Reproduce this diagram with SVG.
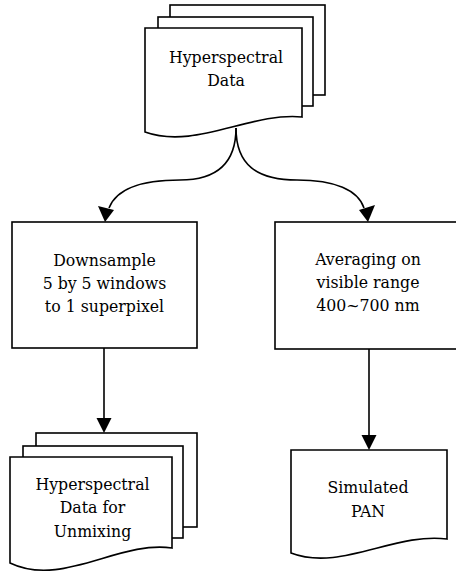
<svg xmlns="http://www.w3.org/2000/svg" width="456" height="576" viewBox="0 0 456 576">
<style>
.s{fill:#fff;stroke:#000;stroke-width:1.6;stroke-linejoin:miter}
.t{font-family:'DejaVu Serif Condensed','DejaVu Serif',serif;font-stretch:condensed;font-size:17.5px;fill:#000;text-anchor:middle}
.c{fill:none;stroke:#000;stroke-width:1.6}
.a{fill:#000;stroke:none}
</style>
<rect width="456" height="576" fill="#fff"/>
<g id="connectors">
<path class="c" d="M236,128 C236,165 215,180 180,180 C140,180 116,190 109,208"/>
<polygon class="a" points="105,222 98,206 114,210"/>
<path class="c" d="M236,128 C236,165 257,180 297,180 C335,180 358,190 364,208"/>
<polygon class="a" points="368,222 359,210 375,205"/>
<path class="c" d="M104,348 L104,420"/>
<polygon class="a" points="104,433 96.5,418 111.5,418"/>
<path class="c" d="M369,349 L369,437"/>
<polygon class="a" points="369,450 361.5,435 376.5,435"/>
</g>
<g id="hyperspectral-data">
<rect class="s" x="170" y="5" width="155" height="90"/>
<rect class="s" x="158" y="17" width="155" height="89"/>
<path class="s" d="M145,28 L302,28 L302,117 C250,112 195,150 145,132 Z"/>
<text class="t" x="226" y="63">Hyperspectral</text>
<text class="t" x="226" y="86">Data</text>
</g>
<g id="downsample">
<rect class="s" x="12" y="222" width="185" height="126"/>
<text class="t" x="104.5" y="266">Downsample</text>
<text class="t" x="104.5" y="289">5 by 5 windows</text>
<text class="t" x="104.5" y="312">to 1 superpixel</text>
</g>
<g id="averaging">
<rect class="s" x="275" y="222" width="190" height="127"/>
<text class="t" x="368" y="265">Averaging on</text>
<text class="t" x="368" y="288">visible range</text>
<text class="t" x="368" y="311">400~700 nm</text>
</g>
<g id="hyperspectral-unmixing">
<rect class="s" x="36" y="433" width="161" height="94"/>
<rect class="s" x="23" y="446" width="160" height="92"/>
<path class="s" d="M10,457 L172,457 L172,548 C119,540 62,588 10,563 Z"/>
<text class="t" x="92.5" y="490">Hyperspectral</text>
<text class="t" x="92.5" y="513">Data for</text>
<text class="t" x="92.5" y="537">Unmixing</text>
</g>
<g id="simulated-pan">
<path class="s" d="M291,450 L447,450 L447,539 C395,532 340,572 291,553 Z"/>
<text class="t" x="368" y="493">Simulated</text>
<text class="t" x="368" y="517">PAN</text>
</g>
</svg>
